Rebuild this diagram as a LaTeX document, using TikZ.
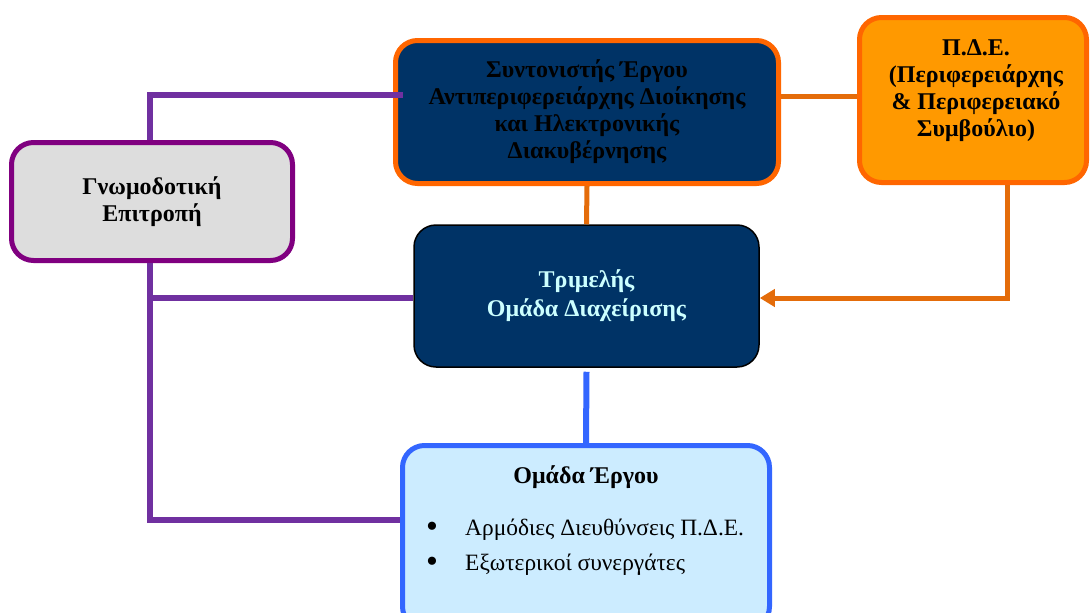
\documentclass[tikz,border=0pt]{standalone}
\usepackage{fontspec}
\setmainfont{Liberation Serif}
\usetikzlibrary{arrows.meta,calc}
\definecolor{navy}{HTML}{003366}
\definecolor{orbord}{HTML}{FF6600}
\definecolor{orfill}{HTML}{FF9900}
\definecolor{purpbord}{HTML}{800080}
\definecolor{purpline}{HTML}{7030A0}
\definecolor{orline}{HTML}{E46C0A}
\definecolor{blueline}{HTML}{3366FF}
\definecolor{lblue}{HTML}{CCECFF}
\definecolor{lcyan}{HTML}{CCFFFF}
\definecolor{lgray}{HTML}{DDDDDD}
\begin{document}
\begin{tikzpicture}[x=1pt,y=-1pt,
  box/.style={rounded corners=22pt, inner sep=0pt, align=center,
    font=\fontsize{24}{27}\selectfont\bfseries},
  pline/.style={draw=purpline, line width=6pt},
  oline/.style={draw=orline, line width=5pt},
  bline/.style={draw=blueline, line width=6pt},
  btext/.style={inner sep=0pt, font=\fontsize{24}{27}\selectfont\bfseries},
  rtext/.style={inner sep=0pt, font=\fontsize{23.4}{27}\selectfont},
  bullet/.style={inner sep=0pt, font=\fontsize{34}{34}\selectfont}]
\useasboundingbox (0,0) rectangle (1090,613);

% boxes
\node[box, draw=orbord, fill=navy, line width=5pt, minimum width=383pt, minimum height=143pt, text=black]
  (coord) at (587,112) {Συντονιστής Έργου\\Αντιπεριφερειάρχης Διοίκησης\\και Ηλεκτρονικής\\Διακυβέρνησης};
\node[box, draw=orbord, fill=orfill, line width=5pt, minimum width=227pt, minimum height=165pt]
  (pde) at (973,100) {};
\node[btext, align=center] (pdetext) at (976,91) {Π.Δ.Ε.\\(Περιφερειάρχης\\\& Περιφερειακό\\Συμβούλιο)};
\node[box, draw=purpbord, fill=lgray, line width=5pt, minimum width=281pt, minimum height=118pt]
  (gnomo) at (152,201.5) {Γνωμοδοτική\\Επιτροπή};
\node[box, draw=black, fill=navy, line width=1.5pt, minimum width=345pt, minimum height=142pt, text=lcyan,
  font=\fontsize{24}{29}\selectfont\bfseries]
  (trim) at (586.5,296) {Τριμελής\\Ομάδα Διαχείρισης};
\node[box, draw=blueline, fill=lblue, line width=5pt, minimum width=367pt, minimum height=183pt]
  (ergou) at (586,537) {};
\node[btext] (ergtitle) at (586,477) {Ομάδα Έργου};
\node[bullet] (b1) at (432,530) {•};
\node[rtext, anchor=west] (t1) at (465,530) {Αρμόδιες Διευθύνσεις Π.Δ.Ε.};
\node[bullet] (b2) at (432,565) {•};
\node[rtext, anchor=west] (t2) at (465,565) {Εξωτερικοί συνεργάτες};

% purple connectors
\coordinate (jTop) at (150,95);
\coordinate (jMid) at (150,298);
\coordinate (jBot) at (150,520);
\draw[pline] ($(coord.west)+(10,-17)$) -- (jTop) -- (jTop |- gnomo.north);
\draw[pline] (jMid |- gnomo.south) -- (jBot) -- (jBot -| ergou.west);
\draw[pline] (jMid) -- (jMid -| trim.west);

% orange connectors
\draw[oline] ($(coord.east)+(0,-16)$) -- ($(pde.west)+(0,-4)$);
\draw[oline] (coord.south) -- (trim.north);
\coordinate (oCorner) at (1007,298);
\draw[oline, -{Triangle[length=15pt,width=17pt]}] (oCorner |- pde.south) -- (oCorner) -- (oCorner -| trim.east);

% blue connector
\draw[bline] ($(trim.south)+(0,4)$) -- (ergou.north);
\end{tikzpicture}
\end{document}
